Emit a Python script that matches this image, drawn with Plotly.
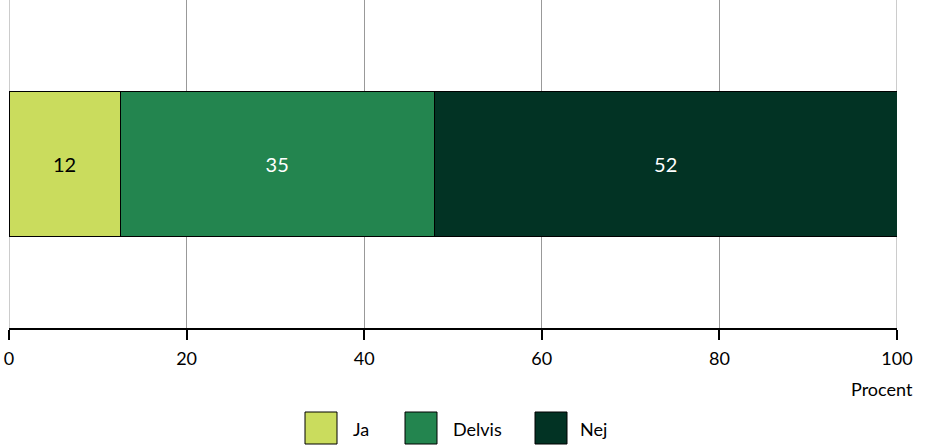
import plotly.graph_objects as go

categories = ["Ja", "Delvis", "Nej"]
values = [12.5, 35.4, 52.1]
labels = ["12", "35", "52"]
colors = ["#cadc5d", "#23854f", "#023324"]
text_colors = ["#000000", "#ffffff", "#ffffff"]
tick_vals = [0, 20, 40, 60, 80, 100]

W, H = 925, 446
L, R, T, B = 9, 28, 0, 118
pw, ph = W - L - R, H - T - B

def px(x):
    return (x - L) / pw

def py(y):
    return (ph - (y - T)) / ph

FONT = "Lato, 'Noto Sans', sans-serif"

fig = go.Figure()
for c, v, lab, col, tc in zip(categories, values, labels, colors, text_colors):
    fig.add_trace(go.Bar(
        y=["s"], x=[v], name=c, orientation="h",
        marker=dict(color=col, line=dict(color="#000000", width=1)),
        text=[lab], textposition="inside", insidetextanchor="middle",
        textfont=dict(color=tc, size=20, family=FONT),
        width=0.44, showlegend=False, hoverinfo="skip",
    ))

shapes = []
for tv in (tick_vals[0], tick_vals[-1]):
    shapes.append(dict(type="line", xref="x", yref="paper", x0=tv, x1=tv, y0=0, y1=1,
                       line=dict(color="#999999", width=1), layer="below"))
annotations = []
legend_pos = [(305, 351), (405, 451), (535, 578)]
for (sx, tx), c, col in zip(legend_pos, categories, colors):
    shapes.append(dict(type="rect", xref="paper", yref="paper",
                       x0=px(sx), x1=px(sx + 32), y0=py(412), y1=py(444),
                       fillcolor=col, line=dict(color="#000000", width=1)))
    annotations.append(dict(text=c, xref="paper", yref="paper", x=px(tx), y=py(429),
                            xanchor="left", yanchor="middle", showarrow=False,
                            font=dict(size=18, color="#000000", family=FONT)))
annotations.append(dict(text="Procent", xref="paper", yref="paper", x=px(915), y=py(389),
                        xanchor="right", yanchor="middle", showarrow=False,
                        font=dict(size=18, color="#000000", family=FONT)))

fig.update_layout(
    barmode="stack",
    width=W, height=H,
    margin=dict(l=L, r=R, t=T, b=B),
    paper_bgcolor="#ffffff", plot_bgcolor="#ffffff",
    font=dict(family=FONT, size=18, color="#000000"),
    xaxis=dict(range=[0, 100], tickvals=tick_vals, showgrid=True, gridcolor="#999999",
               gridwidth=1, zeroline=False, showline=True, linecolor="#000000", linewidth=2,
               ticks="outside", ticklen=10, tickwidth=2, tickcolor="#000000",
               ticklabelstandoff=3,
               tickfont=dict(size=18, family=FONT), fixedrange=True),
    yaxis=dict(showticklabels=False, showgrid=False, zeroline=False, showline=False,
               range=[-0.5, 0.5]),
    shapes=shapes,
    annotations=annotations,
)
fig.write_html("out.html")
